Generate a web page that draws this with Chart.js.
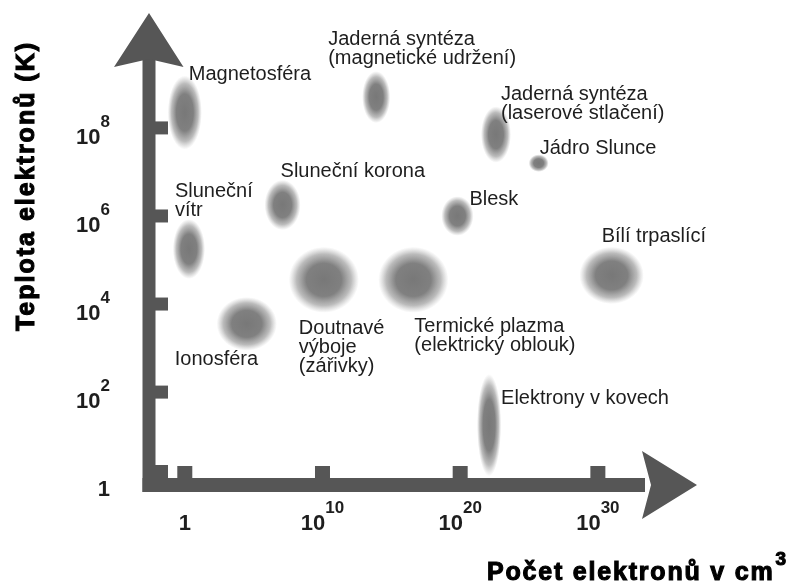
<!DOCTYPE html>
<html>
<head>
<meta charset="utf-8">
<script src="https://cdn.jsdelivr.net/npm/chart.js@4.4.1/dist/chart.umd.min.js"></script>
<style>
  html, body { margin: 0; padding: 0; background: #fff; }
  #plasma { display: block; }
</style>
</head>
<body>
<canvas id="plasma" width="797" height="584"></canvas>
<script>
// plasma regions: log10 of electron density (cm^-3) and log10 of electron temperature (K)
const regionNames = [
    'Magnetosféra',
    'Jaderná syntéza\n(magnetické udržení)',
    'Jaderná syntéza\n(laserové stlačení)',
    'Jádro Slunce',
    'Blesk',
    'Bílí trpaslící',
    'Sluneční korona',
    'Sluneční\nvítr',
    'Doutnavé\nvýboje\n(zářivky)',
    'Termické plazma\n(elektrický oblouk)',
    'Ionosféra',
    'Elektrony v kovech'
];
const densityExp  = [0.0, 13.9, 22.6, 25.7, 19.8, 31.0, 7.1, 0.3, 10.1, 16.6, 4.5, 22.1];
const tempExp     = [8.35, 8.7, 7.85, 7.2, 6.0, 4.65, 6.25, 5.25, 4.55, 4.55, 3.55, 1.25];
// half extent of each region, in decades
const densitySpan = [1.24, 1.02, 1.09, 0.73, 1.17, 2.34, 1.31, 1.17, 2.55, 2.55, 2.19, 0.88];
const tempSpan    = [0.84, 0.59, 0.64, 0.2, 0.45, 0.65, 0.57, 0.68, 0.75, 0.75, 0.61, 1.16];

// axis ticks (exponents)
const xTickExps = [0, 10, 20, 30];
const yTickExps = [0, 2, 4, 6, 8];

// where each label sits relative to its blob (px)
const labelOffsets = [[4, -33], [-48, -52], [5, -35], [1, -9], [12, -11], [-10, -33],
                      [-2, -28], [-14, -52], [-25, 54], [1, 52], [-72, 41], [12, -21]];

const AXIS = '#565656';
const TEXT = '#1e1e1e';

const points = densityExp.map(function(x, i) { return { x: x, y: tempExp[i] }; });

function drawExpLabel(ctx, exp, x, y, align) {
    // "10" with a raised exponent, or "1" for exponent 0
    if (exp === 0) {
        ctx.font = 'bold 22px "Liberation Sans", Arial, sans-serif';
        ctx.textAlign = align === 'right' ? 'right' : 'center';
        ctx.fillText('1', x, y);
        return;
    }
    ctx.font = 'bold 22px "Liberation Sans", Arial, sans-serif';
    var baseW = ctx.measureText('10').width;
    ctx.font = 'bold 17px "Liberation Sans", Arial, sans-serif';
    var supW = ctx.measureText(String(exp)).width;
    var left = align === 'right' ? x - baseW - supW : x - (baseW + supW) / 2;
    ctx.textAlign = 'left';
    ctx.font = 'bold 22px "Liberation Sans", Arial, sans-serif';
    ctx.fillText('10', left, y);
    ctx.font = 'bold 17px "Liberation Sans", Arial, sans-serif';
    ctx.fillText(String(exp), left + baseW, y - 17);
}

const plasmaPlugin = {
    id: 'plasma',
    beforeDatasetsDraw: function(chart) {
        var ctx = chart.ctx;
        var xs = chart.scales.x, ys = chart.scales.y;
        var meta = chart.getDatasetMeta(0);
        meta.data.forEach(function(pt, i) {
            var rx = Math.abs(xs.getPixelForValue(densityExp[i] + densitySpan[i]) - pt.x);
            var ry = Math.abs(ys.getPixelForValue(tempExp[i] + tempSpan[i]) - pt.y);
            ctx.save();
            ctx.translate(pt.x, pt.y);
            ctx.scale(rx, ry);
            var g = ctx.createRadialGradient(0, 0, 0, 0, 0, 1);
            g.addColorStop(0, 'rgba(120,120,120,1)');
            g.addColorStop(0.5, 'rgba(128,128,128,1)');
            g.addColorStop(0.78, 'rgba(142,142,142,0.6)');
            g.addColorStop(1, 'rgba(165,165,165,0)');
            ctx.fillStyle = g;
            ctx.beginPath();
            ctx.arc(0, 0, 1, 0, Math.PI * 2);
            ctx.fill();
            ctx.restore();
        });
    },
    afterDatasetsDraw: function(chart) {
        var ctx = chart.ctx;
        var area = chart.chartArea;
        var xs = chart.scales.x, ys = chart.scales.y;
        var meta = chart.getDatasetMeta(0);

        // region labels
        ctx.save();
        ctx.fillStyle = TEXT;
        ctx.font = '20px "Liberation Sans", Arial, sans-serif';
        ctx.textAlign = 'left';
        ctx.textBaseline = 'alphabetic';
        meta.data.forEach(function(pt, i) {
            var lines = regionNames[i].split('\n');
            lines.forEach(function(line, k) {
                ctx.fillText(line, pt.x + labelOffsets[i][0], pt.y + labelOffsets[i][1] + k * 19);
            });
        });
        ctx.restore();

        // axes
        var ax = area.left, ay = area.bottom;
        ctx.save();
        ctx.fillStyle = AXIS;
        ctx.fillRect(ax - 6.5, area.top + 45, 13, ay - area.top - 45 + 7);
        ctx.fillRect(ax - 6.5, ay - 7, area.right - 52 - ax + 6.5, 14);
        // y arrow head
        ctx.beginPath();
        ctx.moveTo(ax, area.top);
        ctx.lineTo(ax + 34.5, area.top + 54);
        ctx.lineTo(ax, area.top + 46);
        ctx.lineTo(ax - 35, area.top + 54);
        ctx.closePath();
        ctx.fill();
        // x arrow head
        ctx.beginPath();
        ctx.moveTo(area.right, ay);
        ctx.lineTo(area.right - 55, ay + 34);
        ctx.lineTo(area.right - 46, ay);
        ctx.lineTo(area.right - 55, ay - 34);
        ctx.closePath();
        ctx.fill();
        // tick squares
        xTickExps.forEach(function(v) {
            var px = xs.getPixelForValue(v);
            ctx.fillRect(px - 7.5, ay - 19, 15, 13);
        });
        yTickExps.forEach(function(v) {
            var py = ys.getPixelForValue(v);
            var top = Math.min(py - 6.5, ay - 7 - 13);
            ctx.fillRect(ax + 6, top, 13, 13);
        });
        ctx.restore();

        // tick labels
        ctx.save();
        ctx.fillStyle = TEXT;
        ctx.textBaseline = 'alphabetic';
        xTickExps.forEach(function(v) {
            drawExpLabel(ctx, v, xs.getPixelForValue(v), ay + 45, 'center');
        });
        yTickExps.forEach(function(v) {
            drawExpLabel(ctx, v, 110, ys.getPixelForValue(v) + 16, 'right');
        });
        ctx.restore();

        // axis titles
        ctx.save();
        ctx.fillStyle = '#000';
        ctx.strokeStyle = '#000';
        ctx.lineWidth = 1.1;
        ctx.font = 'bold 25px "Liberation Sans", Arial, sans-serif';
        ctx.letterSpacing = '1.8px';
        ctx.textAlign = 'left';
        var xt = 'Počet elektronů v cm';
        ctx.fillText(xt, 487, 580);
        ctx.strokeText(xt, 487, 580);
        var w = ctx.measureText(xt).width;
        ctx.font = 'bold 19px "Liberation Sans", Arial, sans-serif';
        ctx.fillText('3', 487 + w + 1, 565);
        ctx.strokeText('3', 487 + w + 1, 565);

        ctx.font = 'bold 25px "Liberation Sans", Arial, sans-serif';
        ctx.letterSpacing = '2px';
        ctx.translate(34, 186);
        ctx.rotate(-Math.PI / 2);
        ctx.textAlign = 'center';
        ctx.fillText('Teplota elektronů (K)', 0, 0);
        ctx.strokeText('Teplota elektronů (K)', 0, 0);
        ctx.restore();
    }
};

new Chart(document.getElementById('plasma'), {
    type: 'scatter',
    data: {
        datasets: [{
            label: 'Plazma',
            data: points,
            pointRadius: 0,
            pointHoverRadius: 0
        }]
    },
    options: {
        responsive: false,
        animation: false,
        layout: { padding: { left: 149, right: 100, top: 13, bottom: 99 } },
        scales: {
            x: { type: 'linear', min: -2.6, max: 37.2, display: false },
            y: { type: 'linear', min: -0.11, max: 10.61, display: false }
        },
        plugins: {
            legend: { display: false },
            tooltip: { enabled: false }
        }
    },
    plugins: [plasmaPlugin]
});
</script>
</body>
</html>
